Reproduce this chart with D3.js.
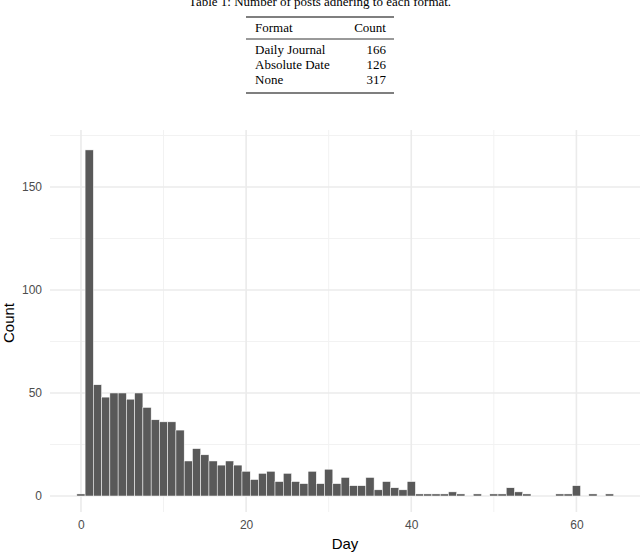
<!DOCTYPE html>
<html><head><meta charset="utf-8">
<script src="https://cdn.jsdelivr.net/npm/d3@7"></script>
<style>body{margin:0;background:white}</style>
</head><body>
<script>
// table data
let formats = ['Daily Journal', 'Absolute Date', 'None']
let formatCounts = [166, 126, 317]
// histogram data, day 0..64
let counts = [1,168,54,48,50,50,47,50,43,37,36,36,32,17,23,20,17,15,17,15,12,8,11,12,7,11,7,6,12,6,13,6,9,5,
              5,9,3,7,4,3,7,1,1,1,1,2,1,0,1,0,1,1,4,2,1,0,0,0,1,1,5,0,1,0,1]
let xTicks = [0, 20, 40, 60]
let yTicks = [0, 50, 100, 150]

let svg = d3.select('body').append('svg').attr('width', 640).attr('height', 554)

// table
let serif = 'Liberation Serif, Times New Roman, serif'
svg.append('text').attr('x', 320).attr('y', 6).attr('text-anchor', 'middle')
   .attr('font-family', serif).attr('font-size', 13).text('Table 1: Number of posts adhering to each format.')
let tl = 246, tr = 394
svg.append('line').attr('x1', tl).attr('x2', tr).attr('y1', 17).attr('y2', 17).attr('stroke', 'black').attr('stroke-width', 1.2)
svg.append('line').attr('x1', tl).attr('x2', tr).attr('y1', 39).attr('y2', 39).attr('stroke', 'black').attr('stroke-width', 0.8)
svg.append('line').attr('x1', tl).attr('x2', tr).attr('y1', 93).attr('y2', 93).attr('stroke', 'black').attr('stroke-width', 1.2)
svg.append('text').attr('x', 255).attr('y', 32).attr('font-family', serif).attr('font-size', 13).text('Format')
svg.append('text').attr('x', 386).attr('y', 32).attr('text-anchor', 'end').attr('font-family', serif).attr('font-size', 13).text('Count')
formats.forEach((f, i) => {
    svg.append('text').attr('x', 255).attr('y', 54 + i * 15).attr('font-family', serif).attr('font-size', 13).text(f)
    svg.append('text').attr('x', 386).attr('y', 54 + i * 15).attr('text-anchor', 'end').attr('font-family', serif).attr('font-size', 13).text(formatCounts[i])
})

// chart
let x = d3.scaleLinear().domain([-3.75, 67.7]).range([50, 640])
let y = d3.scaleLinear().domain([0, 150]).range([496, 187])
let panelTop = 130, panelBottom = 512
let grid = svg.append('g')
d3.range(10, 61, 20).forEach(v => grid.append('line').attr('x1', x(v)).attr('x2', x(v)).attr('y1', panelTop).attr('y2', panelBottom).attr('stroke', '#f2f2f2').attr('stroke-width', 1))
d3.range(25, 176, 50).forEach(v => grid.append('line').attr('x1', 50).attr('x2', 640).attr('y1', y(v)).attr('y2', y(v)).attr('stroke', '#f2f2f2').attr('stroke-width', 1))
xTicks.forEach(v => grid.append('line').attr('x1', x(v)).attr('x2', x(v)).attr('y1', panelTop).attr('y2', panelBottom).attr('stroke', '#ebebeb').attr('stroke-width', 1.6))
yTicks.forEach(v => grid.append('line').attr('x1', 50).attr('x2', 640).attr('y1', y(v)).attr('y2', y(v)).attr('stroke', '#ebebeb').attr('stroke-width', 1.6))

svg.append('g').selectAll('rect').data(counts.map((c, i) => ({day: i, c})).filter(d => d.c > 0)).join('rect')
   .attr('x', d => x(d.day - 0.5)).attr('width', x(1) - x(0))
   .attr('y', d => y(d.c)).attr('height', d => y(0) - y(d.c))
   .attr('fill', '#595959').attr('stroke', 'white').attr('stroke-width', 0.5)

let xAxis = svg.append('g').attr('transform', `translate(0,${panelBottom})`)
   .call(d3.axisBottom(x).tickValues(xTicks).tickSize(0).tickPadding(8))
let yAxis = svg.append('g').attr('transform', 'translate(50,0)')
   .call(d3.axisLeft(y).tickValues(yTicks).tickSize(0).tickPadding(8))
;[xAxis, yAxis].forEach(a => {
    a.select('.domain').remove()
    a.selectAll('text').attr('font-family', 'Liberation Sans, Arial, sans-serif').attr('font-size', 12).attr('fill', '#4d4d4d')
})
svg.append('text').attr('x', 345).attr('y', 549).attr('text-anchor', 'middle')
   .attr('font-family', 'Liberation Sans, Arial, sans-serif').attr('font-size', 15).text('Day')
svg.append('text').attr('transform', 'translate(14,323) rotate(-90)').attr('text-anchor', 'middle')
   .attr('font-family', 'Liberation Sans, Arial, sans-serif').attr('font-size', 15).text('Count')
</script>
</body></html>
